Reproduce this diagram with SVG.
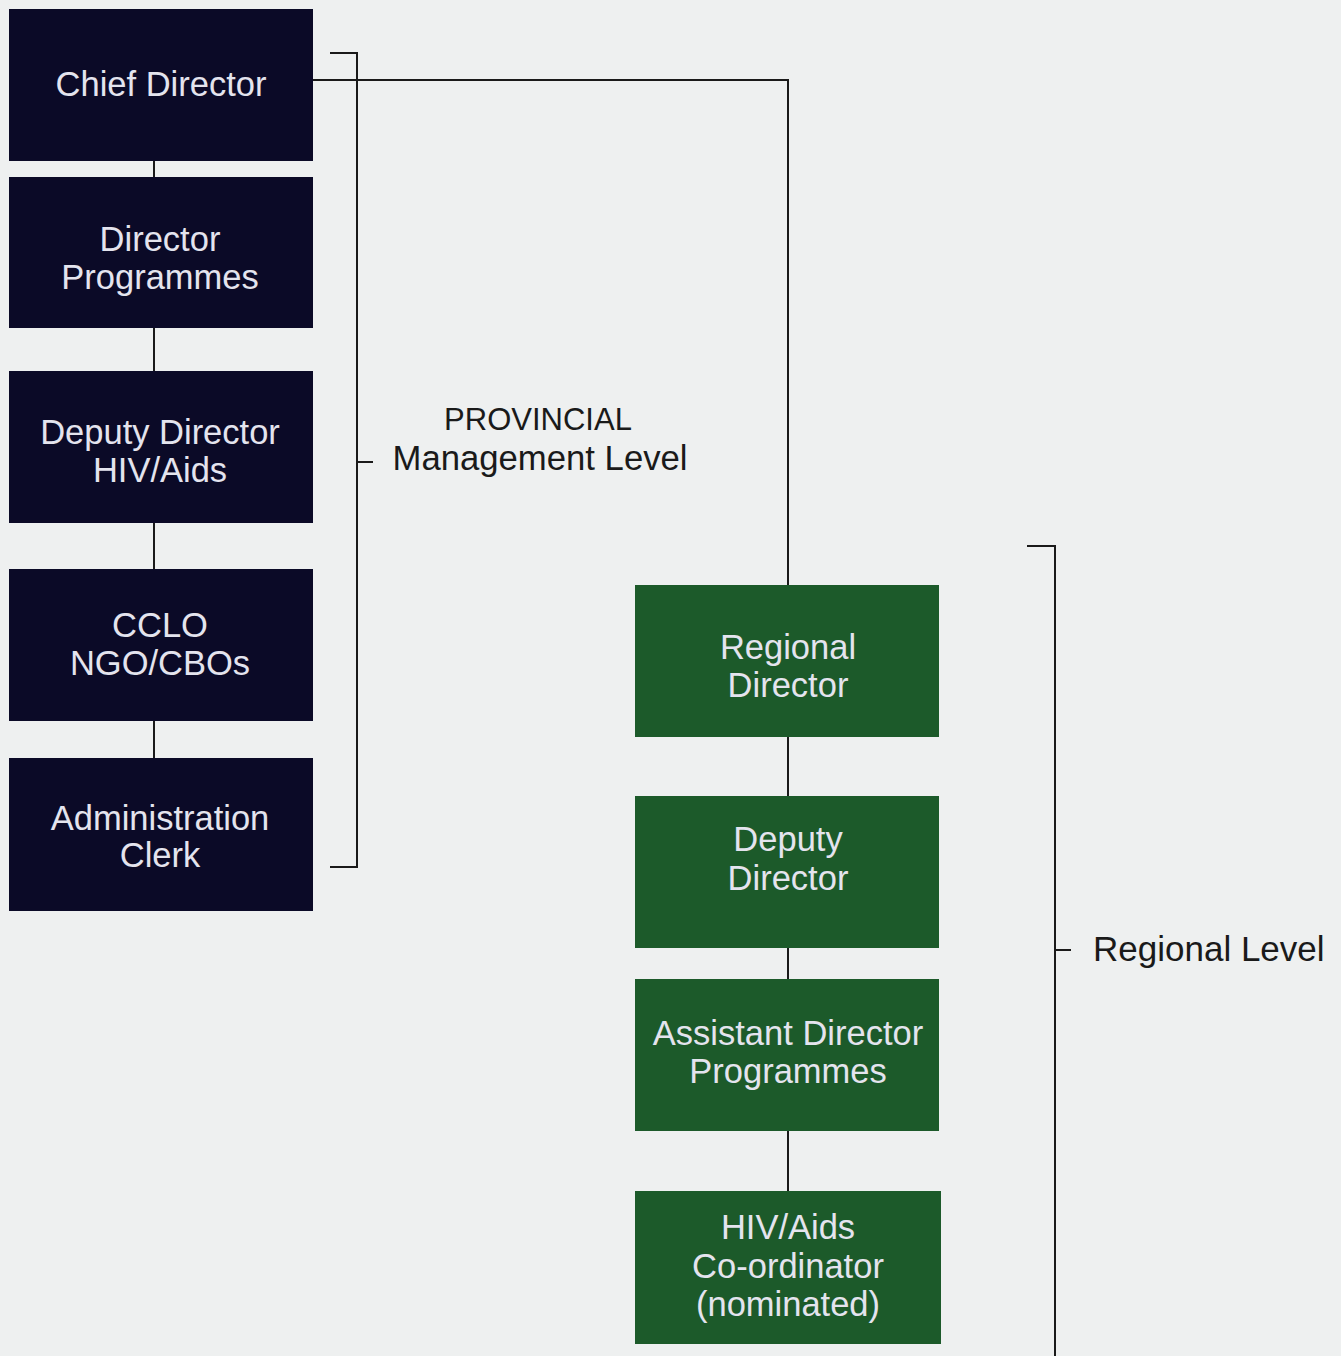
<svg xmlns="http://www.w3.org/2000/svg" width="1341" height="1356" viewBox="0 0 1341 1356">
<style>
.bg{fill:#eef0f0}
.navy{fill:#0b0a27}
.green{fill:#1c5a2a}
.nt{font-family:"Liberation Sans",Arial,sans-serif;font-size:34.5px;fill:#e4e4ee;text-anchor:middle}
.lt{font-family:"Liberation Sans",Arial,sans-serif;fill:#1a1a1a}
.ln{stroke:#1a1a1a;stroke-width:2;fill:none}
</style>
<rect class="bg" x="0" y="0" width="1341" height="1356"/>
<g id="connectors">
<path class="ln" d="M154 161V177M154 328V371M154 523V569M154 721V758"/>
<path class="ln" d="M313 80H788V585"/>
<path class="ln" d="M788 737V796M788 948V979M788 1131V1191"/>
<path class="ln" d="M330 53H357V867H330M357 462H373"/>
<path class="ln" d="M1027 546H1055V1356M1055 950H1071"/>
</g>
<g id="chief-director"><rect class="navy" x="9" y="9" width="304" height="152"/><text class="nt" x="161" y="96">Chief Director</text></g>
<g id="director-programmes"><rect class="navy" x="9" y="177" width="304" height="151"/><text class="nt" x="160" y="251">Director</text><text class="nt" x="160" y="289">Programmes</text></g>
<g id="deputy-director-hiv"><rect class="navy" x="9" y="371" width="304" height="152"/><text class="nt" x="160" y="444">Deputy Director</text><text class="nt" x="160" y="482">HIV/Aids</text></g>
<g id="cclo"><rect class="navy" x="9" y="569" width="304" height="152"/><text class="nt" x="160" y="637">CCLO</text><text class="nt" x="160" y="675">NGO/CBOs</text></g>
<g id="admin-clerk"><rect class="navy" x="9" y="758" width="304" height="153"/><text class="nt" x="160" y="830">Administration</text><text class="nt" x="160" y="867">Clerk</text></g>
<g id="regional-director"><rect class="green" x="635" y="585" width="304" height="152"/><text class="nt" x="788" y="659">Regional</text><text class="nt" x="788" y="697">Director</text></g>
<g id="deputy-director"><rect class="green" x="635" y="796" width="304" height="152"/><text class="nt" x="788" y="851">Deputy</text><text class="nt" x="788" y="890">Director</text></g>
<g id="assistant-director"><rect class="green" x="635" y="979" width="304" height="152"/><text class="nt" x="788" y="1045">Assistant Director</text><text class="nt" x="788" y="1083">Programmes</text></g>
<g id="hiv-coordinator"><rect class="green" x="635" y="1191" width="306" height="153"/><text class="nt" x="788" y="1239">HIV/Aids</text><text class="nt" x="788" y="1278">Co-ordinator</text><text class="nt" x="788" y="1316">(nominated)</text></g>
<g id="provincial-label"><text class="lt" x="538" y="430" font-size="31" text-anchor="middle">PROVINCIAL</text><text class="lt" x="540" y="470" font-size="34.7" text-anchor="middle">Management Level</text></g>
<g id="regional-label"><text class="lt" x="1093" y="961" font-size="35">Regional Level</text></g>
</svg>
